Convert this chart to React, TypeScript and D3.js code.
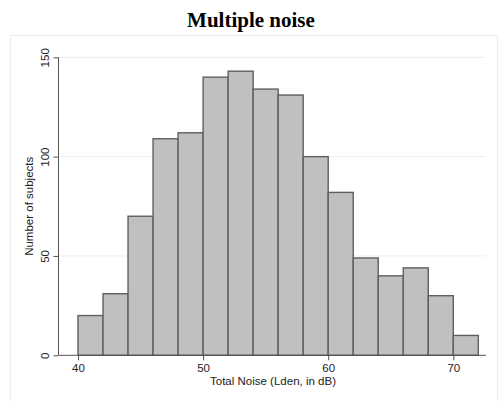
import * as d3 from 'd3';
import React, { useRef, useEffect } from 'react';

// histogram of total noise, bins of 2 dB starting at 40
const binStarts = [40, 42, 44, 46, 48, 50, 52, 54, 56, 58, 60, 62, 64, 66, 68, 70];
const counts = [20, 31, 70, 109, 112, 140, 143, 134, 131, 100, 82, 49, 40, 44, 30, 10];
const binWidth = 2;
const xTicks = [40, 50, 60, 70];
const yTicks = [0, 50, 100, 150];

export default function App() {
    const ref = useRef<SVGSVGElement>(null);

    useEffect(() => {
        const width = 500;
        const height = 401;
        const svg = d3.select(ref.current);
        svg.selectAll("*").remove();

        const left = 58.5;
        const right = 486;
        const top = 57.3;
        const bottom = 355.3;

        // x: 10 dB = 125px
        const x = d3.scaleLinear().domain([40, 70]).range([78, 453.3]);
        const y = d3.scaleLinear().domain([0, 150]).range([bottom, top]);

        svg.append("rect")
            .attr("width", width)
            .attr("height", height)
            .attr("fill", "#ffffff");

        // plot region frame
        svg.append("rect")
            .attr("x", 10.5)
            .attr("y", 35.5)
            .attr("width", 487)
            .attr("height", 380)
            .attr("fill", "none")
            .attr("stroke", "#e6eef0")
            .attr("stroke-width", 1);

        svg.append("text")
            .attr("x", 251)
            .attr("y", 26.5)
            .attr("text-anchor", "middle")
            .attr("font-family", "Liberation Serif, Times New Roman, serif")
            .attr("font-weight", "bold")
            .attr("font-size", 21)
            .attr("fill", "#000")
            .text("Multiple noise");

        // gridlines
        svg.append("g")
            .selectAll("line")
            .data(yTicks.filter(d => d > 0))
            .enter()
            .append("line")
            .attr("x1", left)
            .attr("x2", right)
            .attr("y1", d => y(d))
            .attr("y2", d => y(d))
            .attr("stroke", "#e8f1f2")
            .attr("stroke-width", 1);

        // bars
        svg.append("g")
            .selectAll("rect")
            .data(binStarts)
            .enter()
            .append("rect")
            .attr("x", d => x(d))
            .attr("y", (d, i) => y(counts[i]))
            .attr("width", d => x(d + binWidth) - x(d))
            .attr("height", (d, i) => y(0) - y(counts[i]))
            .attr("fill", "#c0c0c0")
            .attr("stroke", "#5f5f5f")
            .attr("stroke-width", 1.4);

        const axisColor = "#555555";
        const font = "Liberation Sans, Arial, sans-serif";

        // y axis, labels rotated
        const yAxis = svg.append("g").attr("transform", `translate(${left},0)`)
            .call(d3.axisLeft(y).tickValues(yTicks).tickSize(5).tickFormat(d3.format("d")));
        yAxis.select(".domain").attr("stroke", axisColor).attr("d", `M0,${top}V${bottom}`);
        yAxis.selectAll(".tick line").attr("stroke", axisColor);
        yAxis.selectAll(".tick text")
            .attr("font-family", font)
            .attr("font-size", 11.5)
            .attr("fill", "#222")
            .attr("text-anchor", "middle")
            .attr("x", 0)
            .attr("y", 0)
            .attr("dy", 0)
            .attr("transform", "translate(-10,0) rotate(-90)");

        // x axis
        const xAxis = svg.append("g").attr("transform", `translate(0,${bottom})`)
            .call(d3.axisBottom(x).tickValues(xTicks).tickSize(5).tickPadding(4).tickFormat(d3.format("d")));
        xAxis.select(".domain").attr("stroke", axisColor).attr("d", `M${left},0H${right}`);
        xAxis.selectAll(".tick line").attr("stroke", axisColor);
        xAxis.selectAll(".tick text")
            .attr("font-family", font)
            .attr("font-size", 11.5)
            .attr("fill", "#222");

        svg.append("text")
            .attr("x", 273)
            .attr("y", 385)
            .attr("text-anchor", "middle")
            .attr("font-family", font)
            .attr("font-size", 11.5)
            .attr("fill", "#222")
            .text("Total Noise (Lden, in dB)");

        svg.append("text")
            .attr("transform", `translate(33,${(top + bottom) / 2}) rotate(-90)`)
            .attr("text-anchor", "middle")
            .attr("font-family", font)
            .attr("font-size", 11.5)
            .attr("fill", "#222")
            .text("Number of subjects");
    }, []);

    return (
        <div style={{ position: "absolute", left: 0, top: 0 }}>
            <svg ref={ref} width={500} height={401} style={{ display: "block" }}></svg>
        </div>
    );
}
